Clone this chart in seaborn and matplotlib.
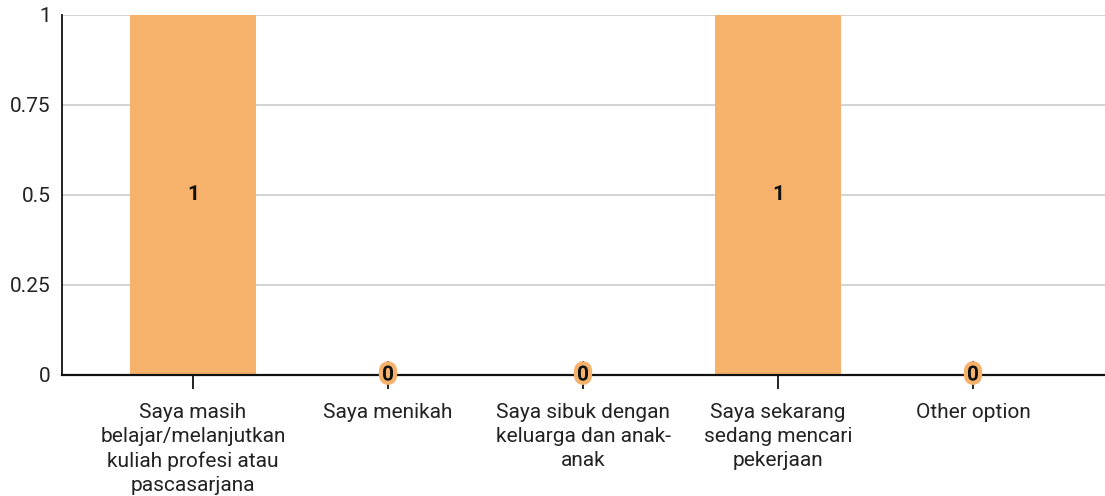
import matplotlib
matplotlib.use("Agg")
import matplotlib.pyplot as plt
import matplotlib.patheffects as pe
import seaborn as sns
import pandas as pd

categories = [
    "Saya masih\nbelajar/melanjutkan\nkuliah profesi atau\npascasarjana",
    "Saya menikah",
    "Saya sibuk dengan\nkeluarga dan anak-\nanak",
    "Saya sekarang\nsedang mencari\npekerjaan",
    "Other option",
]
counts = [1, 0, 0, 1, 0]
y_ticks = [0, 0.25, 0.5, 0.75, 1]
y_tick_labels = ["0", "0.25", "0.5", "0.75", "1"]

bar_color = "#F6B26B"
text_color = "#222222"

sns.set_theme(style="white")
plt.rcParams["font.family"] = ["Roboto", "DejaVu Sans"]

df = pd.DataFrame({"category": categories, "count": counts})

fig = plt.figure(figsize=(11.05, 4.96), dpi=100)
ax = fig.add_axes([62 / 1105, 121 / 496, (1105 - 62) / 1105, 360 / 496])

sns.barplot(data=df, x="category", y="count", color=bar_color, saturation=1,
            width=0.645, linewidth=0, edgecolor="none", ax=ax, zorder=2)

ax.set_xlim(-0.672, 4.677)
ax.set_ylim(0, 1)
ax.set_yticks(y_ticks)
ax.set_yticklabels(y_tick_labels)
ax.yaxis.grid(True, color="#cccccc", linewidth=1.2, zorder=0)
ax.set_axisbelow(True)

for side in ["top", "right"]:
    ax.spines[side].set_visible(False)
ax.spines["left"].set_color("#111111")
ax.spines["left"].set_linewidth(1.3)
ax.spines["bottom"].set_color("#111111")
ax.spines["bottom"].set_linewidth(1.6)
ax.spines["bottom"].set_zorder(3)

ax.tick_params(axis="x", bottom=True, direction="inout", length=20, width=1.3,
               color="#111111", pad=10, labelsize=15, labelcolor=text_color)
ax.tick_params(axis="y", left=False, length=0, pad=8, labelsize=15,
               labelcolor=text_color)
for lbl in ax.get_xticklabels():
    lbl.set_horizontalalignment("center")
    lbl.set_verticalalignment("top")
    lbl.set_linespacing(1.35)

ax.set_xlabel("")
ax.set_ylabel("")

for i, v in enumerate(counts):
    if v > 0:
        ax.text(i, v / 2, f"{v:g}", ha="center", va="center", fontsize=15,
                fontweight="bold", color="#111111", zorder=5)
    else:
        ax.text(i, v, f"{v:g}", ha="center", va="center", fontsize=15,
                fontweight="bold", color="#111111", zorder=5,
                path_effects=[pe.withStroke(linewidth=6, foreground=bar_color)])

fig.savefig("out.png", dpi=100)
